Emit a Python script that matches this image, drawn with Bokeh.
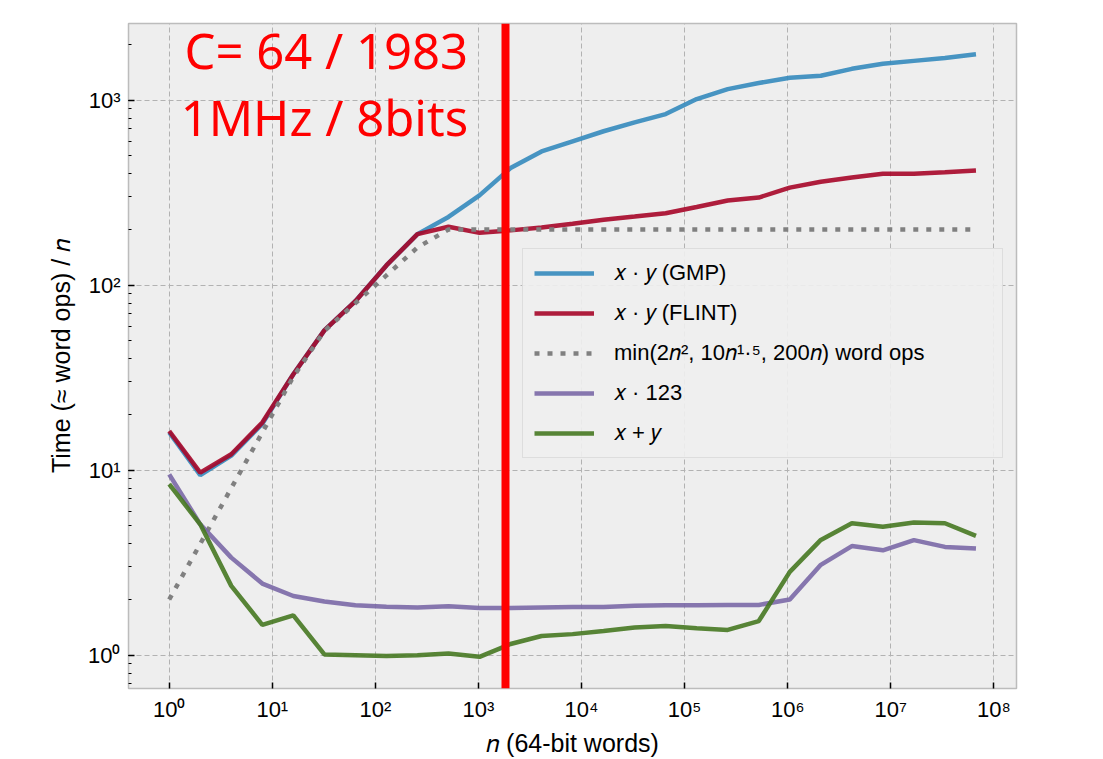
from bokeh.plotting import figure
from bokeh.models import Span, Label, CustomJSTickFormatter, FixedTicker, Legend, LegendItem
from bokeh.embed import file_html
from bokeh.resources import INLINE

# ---- data ----
n_words = [2 ** k for k in range(27)]

gmp = [16.0, 9.4, 12.0, 17.8, 33, 57, 82, 128, 189, 234, 306, 430, 529, 600, 680,
       760, 842, 1015, 1149, 1240, 1322, 1356, 1479, 1574, 1633, 1694, 1774]
flint = [16.3, 9.7, 12.2, 18.1, 33, 57, 82, 128, 189, 207, 192, 198, 205, 215, 226,
         235, 245, 265, 287, 298, 337, 363, 382, 401, 401, 408, 417]
model = [2, 4, 8, 16, 32, 56.6, 80, 113, 160, 200, 200, 200, 200, 200, 200,
         200, 200, 200, 200, 200, 200, 200, 200, 200, 200, 200, 200]
mul123 = [9.5, 5.1, 3.37, 2.44, 2.09, 1.95, 1.86, 1.83, 1.81, 1.84, 1.80, 1.80, 1.81, 1.82,
          1.82, 1.85, 1.86, 1.86, 1.87, 1.87, 2.0, 3.08, 3.89, 3.69, 4.19, 3.85, 3.77]
add = [8.4, 5.1, 2.37, 1.46, 1.64, 1.01, 1.0, 0.99, 1.0, 1.02, 0.98, 1.15, 1.27, 1.30,
       1.35, 1.41, 1.44, 1.40, 1.37, 1.53, 2.82, 4.2, 5.17, 4.95, 5.21, 5.17, 4.42]

c64_marker = 1830
x_tick_values = [10 ** e for e in range(0, 9)]

labels = ["𝑥 · 𝑦 (GMP)", "𝑥 · 𝑦 (FLINT)", "min(2𝑛², 10𝑛¹·⁵, 200𝑛) word ops", "𝑥 · 123", "𝑥 + 𝑦"]
colors = ["#348ABD", "#A60628", "gray", "#7A68A6", "#467821"]

FONT = "Liberation Sans"

p = figure(x_axis_type="log", y_axis_type="log",
           x_range=(10 ** -0.395, 10 ** 8.22), y_range=(10 ** -0.18, 10 ** 3.415),
           frame_width=888, frame_height=665,
           output_backend="svg", toolbar_location=None)
p.min_border_left = 128
p.min_border_right = 82
p.min_border_top = 23
p.min_border_bottom = 65
p.background_fill_color = "#eeeeee"
p.border_fill_color = "white"
p.outline_line_color = "#bcbcbc"
p.outline_line_width = 1.5

for g in (p.xgrid[0], p.ygrid[0]):
    g.grid_line_color = "#b2b2b2"
    g.grid_line_dash = "5 3"
    g.grid_line_width = 1

fmt = CustomJSTickFormatter(code="""
const sup = {"0":"⁰","1":"¹","2":"²","3":"³","4":"⁴","5":"⁵","6":"⁶","7":"⁷","8":"⁸","9":"⁹","-":"⁻"};
const e = Math.round(Math.log10(tick));
return "10" + String(e).split("").map(c => sup[c]).join("");
""")

p.xaxis.ticker = FixedTicker(ticks=x_tick_values)
p.yaxis.ticker.num_minor_ticks = 10
p.yaxis.ticker.desired_num_ticks = 4
for ax in (p.xaxis[0], p.yaxis[0]):
    ax.formatter = fmt
    ax.axis_line_color = None
    ax.major_tick_in = 6
    ax.major_tick_out = 0
    ax.minor_tick_in = 3
    ax.minor_tick_out = 0
    ax.major_tick_line_color = "black"
    ax.major_tick_line_width = 1.5
    ax.minor_tick_line_color = "black"
    ax.major_label_text_font = FONT
    ax.major_label_text_font_size = "22px"
    ax.major_label_text_color = "black"
    ax.axis_label_text_font = FONT
    ax.axis_label_text_font_size = "25px"
    ax.axis_label_text_font_style = "normal"
    ax.axis_label_text_color = "black"
p.xaxis.minor_tick_line_color = None
p.xaxis.major_label_standoff = 8
p.yaxis.major_label_standoff = 8
p.xaxis.axis_label = "𝑛 (64-bit words)"
p.yaxis.axis_label = "Time (≈ word ops) / 𝑛"
p.xaxis.axis_label_standoff = 4
p.yaxis.axis_label_standoff = 10

series = [gmp, flint, model, mul123, add]
renderers = []
for vals, col in zip(series, colors):
    if col == "gray":
        r = p.line(n_words, vals, line_color=col, line_width=4.5, line_dash="5 8")
    else:
        r = p.line(n_words, vals, line_color=col, line_width=4.5, line_alpha=0.9)
    renderers.append(r)

legend = Legend(items=[LegendItem(label=l, renderers=[r]) for l, r in zip(labels, renderers)],
                location=(394, 230))
legend.label_text_font = FONT
legend.label_text_font_size = "22px"
legend.label_text_color = "black"
legend.glyph_width = 60
legend.glyph_height = 22
legend.label_width = 377
legend.label_standoff = 20
legend.spacing = 14
legend.padding = 11
legend.margin = 0
legend.background_fill_color = "#eeeeee"
legend.background_fill_alpha = 0.9
legend.border_line_color = "#cccccc"
legend.border_line_width = 1
p.add_layout(legend, "center")

vline = Span(location=c64_marker, dimension="height", line_color="#ff0000", line_width=8)
p.add_layout(vline)

for txt, yv in (("C= 64 / 1983", 1880), ("1MHz / 8bits", 808)):
    p.add_layout(Label(x=794, y=yv, text=txt, text_align="right", text_baseline="alphabetic",
                       text_color="#ff0000", text_font="Noto Sans", text_font_size="49px"))

open("out.html", "w").write(file_html(p, INLINE))
